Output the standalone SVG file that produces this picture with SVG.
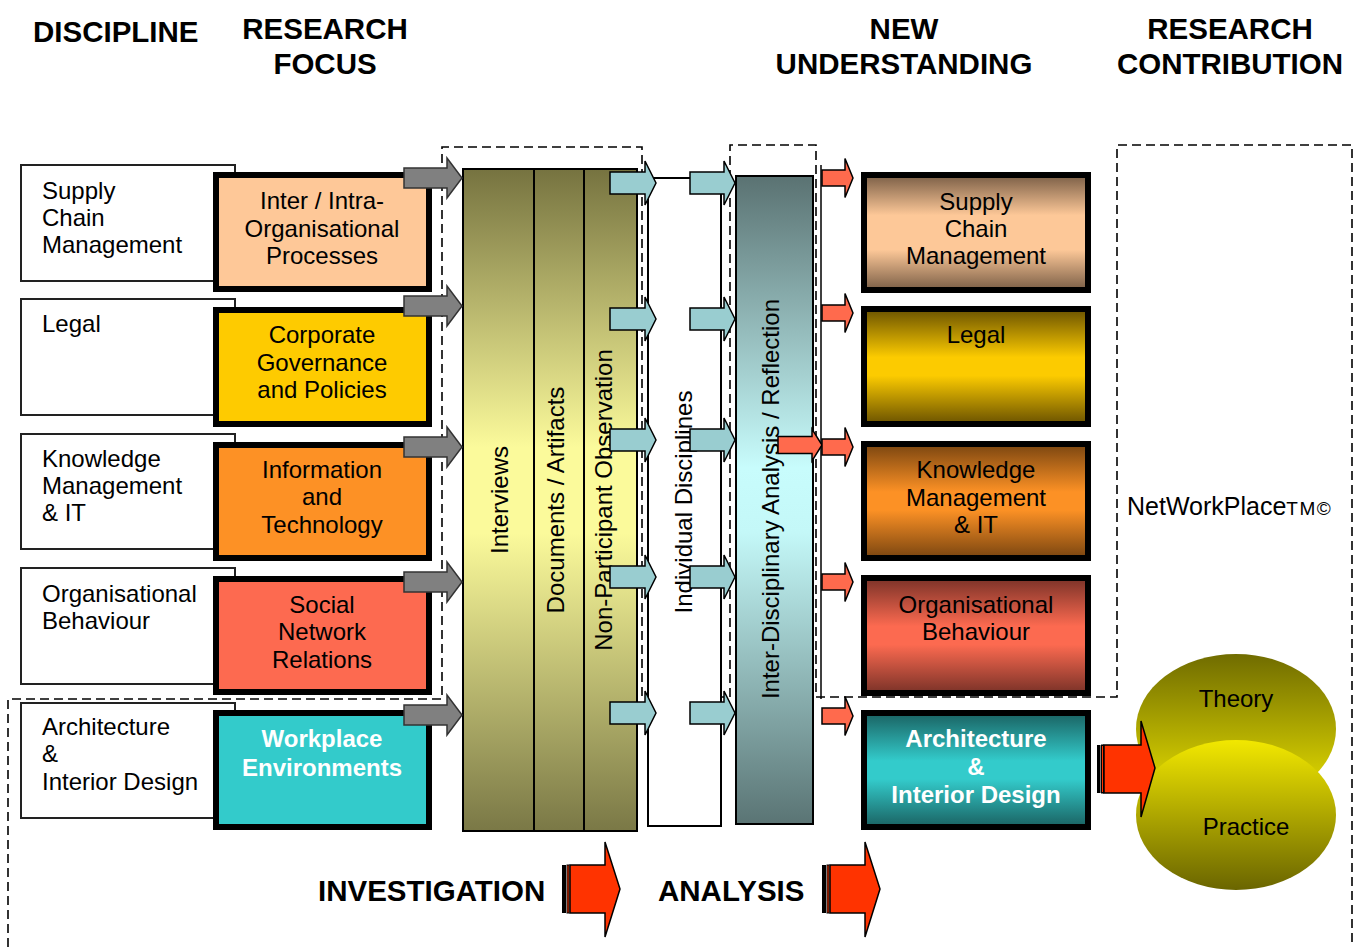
<svg xmlns="http://www.w3.org/2000/svg" width="1360" height="947" viewBox="0 0 1360 947">
  <defs>
    <linearGradient id="gOlive" x1="0" y1="0" x2="0" y2="1">
      <stop offset="0" stop-color="#767340"/>
      <stop offset="0.42" stop-color="#fbfa9b"/>
      <stop offset="0.55" stop-color="#fbfa9b"/>
      <stop offset="1" stop-color="#7a7846"/>
    </linearGradient>
    <linearGradient id="gInter" x1="0" y1="0" x2="0" y2="1">
      <stop offset="0" stop-color="#5a7272"/>
      <stop offset="0.45" stop-color="#c8fcfc"/>
      <stop offset="0.55" stop-color="#c4f8f8"/>
      <stop offset="1" stop-color="#5a7474"/>
    </linearGradient>
    <linearGradient id="gSupply" x1="0" y1="0" x2="0" y2="1">
      <stop offset="0" stop-color="#7a5e46"/>
      <stop offset="0.35" stop-color="#fdc898"/>
      <stop offset="0.65" stop-color="#fdc898"/>
      <stop offset="1" stop-color="#7a5e46"/>
    </linearGradient>
    <linearGradient id="gLegal" x1="0" y1="0" x2="0" y2="1">
      <stop offset="0" stop-color="#6a5200"/>
      <stop offset="0.42" stop-color="#fccb00"/>
      <stop offset="0.58" stop-color="#fccb00"/>
      <stop offset="1" stop-color="#6a5200"/>
    </linearGradient>
    <linearGradient id="gKM" x1="0" y1="0" x2="0" y2="1">
      <stop offset="0" stop-color="#7a4510"/>
      <stop offset="0.42" stop-color="#fc9125"/>
      <stop offset="0.58" stop-color="#fc9125"/>
      <stop offset="1" stop-color="#7a4510"/>
    </linearGradient>
    <linearGradient id="gOB" x1="0" y1="0" x2="0" y2="1">
      <stop offset="0" stop-color="#7a3228"/>
      <stop offset="0.42" stop-color="#fc6a50"/>
      <stop offset="0.58" stop-color="#fc6a50"/>
      <stop offset="1" stop-color="#7a3228"/>
    </linearGradient>
    <linearGradient id="gArch" x1="0" y1="0" x2="0" y2="1">
      <stop offset="0" stop-color="#1a6262"/>
      <stop offset="0.42" stop-color="#33cbcb"/>
      <stop offset="0.58" stop-color="#33cbcb"/>
      <stop offset="1" stop-color="#1a6262"/>
    </linearGradient>
    <linearGradient id="gTheory" x1="0" y1="0" x2="0" y2="1">
      <stop offset="0" stop-color="#706c00"/>
      <stop offset="1" stop-color="#ece400"/>
    </linearGradient>
    <linearGradient id="gPractice" x1="0" y1="0" x2="0" y2="1">
      <stop offset="0" stop-color="#f2e800"/>
      <stop offset="1" stop-color="#6a6500"/>
    </linearGradient>
  </defs>
  <style>
    text { font-family: "Liberation Sans", Arial, sans-serif; fill: #000; }
    .hdr { font-size: 29.5px; font-weight: bold; }
    .t { font-size: 24px; }
    .c { text-anchor: middle; }
    .w { fill: #fff; font-weight: bold; }
    .disc { fill: #fff; stroke: #222; stroke-width: 2; }
    .focus { stroke: #000; stroke-width: 6; }
    .dash { fill: none; stroke: #000; stroke-width: 1.6; stroke-dasharray: 9 5; }
    .col { stroke: #000; stroke-width: 2; }
    .gray { fill: #808080; stroke: #333; stroke-width: 1.5; }
    .teal { fill: #99cdd0; stroke: #000; stroke-width: 1.5; }
    .coral { fill: #ff6a4d; stroke: #000; stroke-width: 1.5; }
    .red { fill: #ff3300; stroke: #000; stroke-width: 1.5; }
  </style>

  <rect width="1360" height="947" fill="#fff"/>

  <!-- column headings -->
  <g id="headings">
    <text class="hdr" x="33" y="42">DISCIPLINE</text>
    <text class="hdr c" x="325" y="39">RESEARCH</text>
    <text class="hdr c" x="325" y="74">FOCUS</text>
    <text class="hdr c" x="904" y="39">NEW</text>
    <text class="hdr c" x="904" y="74">UNDERSTANDING</text>
    <text class="hdr c" x="1230" y="39">RESEARCH</text>
    <text class="hdr c" x="1230" y="74">CONTRIBUTION</text>
  </g>

  <!-- dashed boundary enclosing the study scope -->
  <path id="scope" class="dash" d="M8,947 V699 H442 V147 H642 V697 H730 V145 H816 V697 H1117 V145 H1352 V947"/>
  <text x="1127" y="515" font-size="25">NetWorkPlace<tspan font-size="19" letter-spacing="1.5">TM©</tspan></text>

  <!-- disciplines -->
  <g id="disc-scm"><rect class="disc" x="21" y="165" width="214" height="116"/>
    <text class="t" x="42" y="199">Supply</text><text class="t" x="42" y="226">Chain</text><text class="t" x="42" y="253">Management</text></g>
  <g id="disc-legal"><rect class="disc" x="21" y="299" width="214" height="116"/>
    <text class="t" x="42" y="332">Legal</text></g>
  <g id="disc-km"><rect class="disc" x="21" y="434" width="214" height="115"/>
    <text class="t" x="42" y="467">Knowledge</text><text class="t" x="42" y="494">Management</text><text class="t" x="42" y="521">&amp; IT</text></g>
  <g id="disc-ob"><rect class="disc" x="21" y="568" width="214" height="116"/>
    <text class="t" x="42" y="602">Organisational</text><text class="t" x="42" y="629">Behaviour</text></g>
  <g id="disc-arch"><rect class="disc" x="21" y="703" width="214" height="115"/>
    <text class="t" x="42" y="735">Architecture</text><text class="t" x="42" y="762">&amp;</text><text class="t" x="42" y="790">Interior Design</text></g>

  <!-- research focus -->
  <g id="focus-processes"><rect class="focus" x="216" y="175" width="213" height="114" fill="#fec898"/>
    <text class="t c" x="322" y="209">Inter / Intra-</text><text class="t c" x="322" y="237">Organisational</text><text class="t c" x="322" y="264">Processes</text></g>
  <g id="focus-governance"><rect class="focus" x="216" y="310" width="213" height="114" fill="#fecb00"/>
    <text class="t c" x="322" y="343">Corporate</text><text class="t c" x="322" y="371">Governance</text><text class="t c" x="322" y="398">and Policies</text></g>
  <g id="focus-it"><rect class="focus" x="216" y="445" width="213" height="113" fill="#fd9125"/>
    <text class="t c" x="322" y="478">Information</text><text class="t c" x="322" y="505">and</text><text class="t c" x="322" y="533">Technology</text></g>
  <g id="focus-social"><rect class="focus" x="216" y="579" width="213" height="113" fill="#fd6a50"/>
    <text class="t c" x="322" y="613">Social</text><text class="t c" x="322" y="640">Network</text><text class="t c" x="322" y="668">Relations</text></g>
  <g id="focus-workplace"><rect class="focus" x="216" y="713" width="213" height="114" fill="#33cbcb"/>
    <text class="t c w" x="322" y="747">Workplace</text><text class="t c w" x="322" y="776">Environments</text></g>

  <!-- investigation methods -->
  <g id="methods">
    <rect class="col" x="463" y="169" width="174" height="662" fill="url(#gOlive)"/>
    <line class="col" x1="534" y1="169" x2="534" y2="831"/>
    <line class="col" x1="584" y1="169" x2="584" y2="831"/>
    <text class="t c" transform="translate(508,500) rotate(-90)">Interviews</text>
    <text class="t c" transform="translate(564,500) rotate(-90)">Documents / Artifacts</text>
    <text class="t c" transform="translate(612,500) rotate(-90)">Non-Participant Observation</text>
  </g>

  <!-- analysis stages -->
  <g id="individual">
    <rect class="col" x="648" y="178" width="73" height="648" fill="#fff"/>
    <text class="t c" transform="translate(692,502) rotate(-90)">Individual Disciplines</text>
  </g>
  <line x1="821" y1="165" x2="821" y2="699" stroke="#000" stroke-width="1.5"/>
  <g id="inter">
    <rect class="col" x="736" y="176" width="77" height="648" fill="url(#gInter)"/>
    <text class="t c" transform="translate(779,499) rotate(-90)">Inter-Disciplinary Analysis / Reflection</text>
  </g>

  <!-- new understanding -->
  <g id="nu-scm"><rect class="focus" x="864" y="175" width="224" height="115" fill="url(#gSupply)"/>
    <text class="t c" x="976" y="210">Supply</text><text class="t c" x="976" y="237">Chain</text><text class="t c" x="976" y="264">Management</text></g>
  <g id="nu-legal"><rect class="focus" x="864" y="309" width="224" height="115" fill="url(#gLegal)"/>
    <text class="t c" x="976" y="343">Legal</text></g>
  <g id="nu-km"><rect class="focus" x="864" y="444" width="224" height="114" fill="url(#gKM)"/>
    <text class="t c" x="976" y="478">Knowledge</text><text class="t c" x="976" y="506">Management</text><text class="t c" x="976" y="533">&amp; IT</text></g>
  <g id="nu-ob"><rect class="focus" x="864" y="578" width="224" height="115" fill="url(#gOB)"/>
    <text class="t c" x="976" y="613">Organisational</text><text class="t c" x="976" y="640">Behaviour</text></g>
  <g id="nu-arch"><rect class="focus" x="864" y="713" width="224" height="114" fill="url(#gArch)"/>
    <text class="t c w" x="976" y="747">Architecture</text><text class="t c w" x="976" y="775">&amp;</text><text class="t c w" x="976" y="803">Interior Design</text></g>

  <!-- research contribution -->
  <g id="contribution">
    <ellipse cx="1236" cy="729" rx="100" ry="75" fill="url(#gTheory)"/>
    <ellipse cx="1236" cy="815" rx="100" ry="75" fill="url(#gPractice)"/>
    <text class="t c" x="1236" y="707">Theory</text>
    <text class="t c" x="1246" y="835">Practice</text>
  </g>

  <!-- connectors -->
  <g id="connectors">
    <!-- focus to methods -->
    <path class="gray" d="M404,168 H447 V158 L462,178 L447,198 V188 H404 Z"/>
    <path class="gray" d="M404,296 H447 V286 L462,306 L447,326 V316 H404 Z"/>
    <path class="gray" d="M404,437 H447 V427 L462,447 L447,467 V457 H404 Z"/>
    <path class="gray" d="M404,572 H447 V562 L462,582 L447,602 V592 H404 Z"/>
    <path class="gray" d="M404,705 H447 V695 L462,715 L447,735 V725 H404 Z"/>
    <!-- methods to individual disciplines -->
    <path class="teal" d="M610,172 H645 V161 L656,183 L645,205 V194 H610 Z"/>
    <path class="teal" d="M610,308 H645 V297 L656,319 L645,341 V330 H610 Z"/>
    <path class="teal" d="M610,429 H645 V418 L656,440 L645,462 V451 H610 Z"/>
    <path class="teal" d="M610,566 H645 V555 L656,577 L645,599 V588 H610 Z"/>
    <path class="teal" d="M610,702 H645 V691 L656,713 L645,735 V724 H610 Z"/>
    <!-- individual to inter-disciplinary -->
    <path class="teal" d="M690,172 H724 V161 L735,183 L724,205 V194 H690 Z"/>
    <path class="teal" d="M690,308 H724 V297 L735,319 L724,341 V330 H690 Z"/>
    <path class="teal" d="M690,429 H724 V418 L735,440 L724,462 V451 H690 Z"/>
    <path class="teal" d="M690,566 H724 V555 L735,577 L724,599 V588 H690 Z"/>
    <path class="teal" d="M690,702 H724 V691 L735,713 L724,735 V724 H690 Z"/>
    <!-- inter-disciplinary to new understanding -->
    <path class="coral" d="M778,436.5 H812 V429 L822,445 L812,461 V453.5 H778 Z"/>
    <path class="coral" d="M822,170 H845 V158.5 L853,178 L845,197.5 V186 H822 Z"/>
    <path class="coral" d="M822,305 H845 V293.5 L853,313 L845,332.5 V321 H822 Z"/>
    <path class="coral" d="M822,439 H845 V427.5 L853,447 L845,466.5 V455 H822 Z"/>
    <path class="coral" d="M822,574 H845 V562.5 L853,582 L845,601.5 V590 H822 Z"/>
    <path class="coral" d="M822,708 H845 V696.5 L853,716 L845,735.5 V724 H822 Z"/>
    <!-- new understanding to contribution -->
    <rect x="1097" y="745" width="3.5" height="48" fill="#000"/>
    <rect x="1101.5" y="745" width="2" height="48" fill="#ff3300" stroke="#000" stroke-width="1"/>
    <path class="red" d="M1104,745 H1141 V721 L1155,768 L1141,817 V793 H1104 Z"/>
  </g>

  <!-- phase labels -->
  <g id="phase-investigation">
    <text class="hdr" x="318" y="901">INVESTIGATION</text>
    <rect x="562" y="865" width="4" height="48" fill="#000"/>
    <rect x="567" y="865" width="2" height="48" fill="#ff3300" stroke="#000" stroke-width="1"/>
    <path class="red" d="M570,865 H605 V842 L620,889 L605,937 V913 H570 Z"/>
  </g>
  <g id="phase-analysis">
    <text class="hdr" x="658" y="901">ANALYSIS</text>
    <rect x="822" y="865" width="4" height="48" fill="#000"/>
    <rect x="827" y="865" width="2" height="48" fill="#ff3300" stroke="#000" stroke-width="1"/>
    <path class="red" d="M830,865 H865 V842 L880,889 L865,937 V913 H830 Z"/>
  </g>
</svg>
